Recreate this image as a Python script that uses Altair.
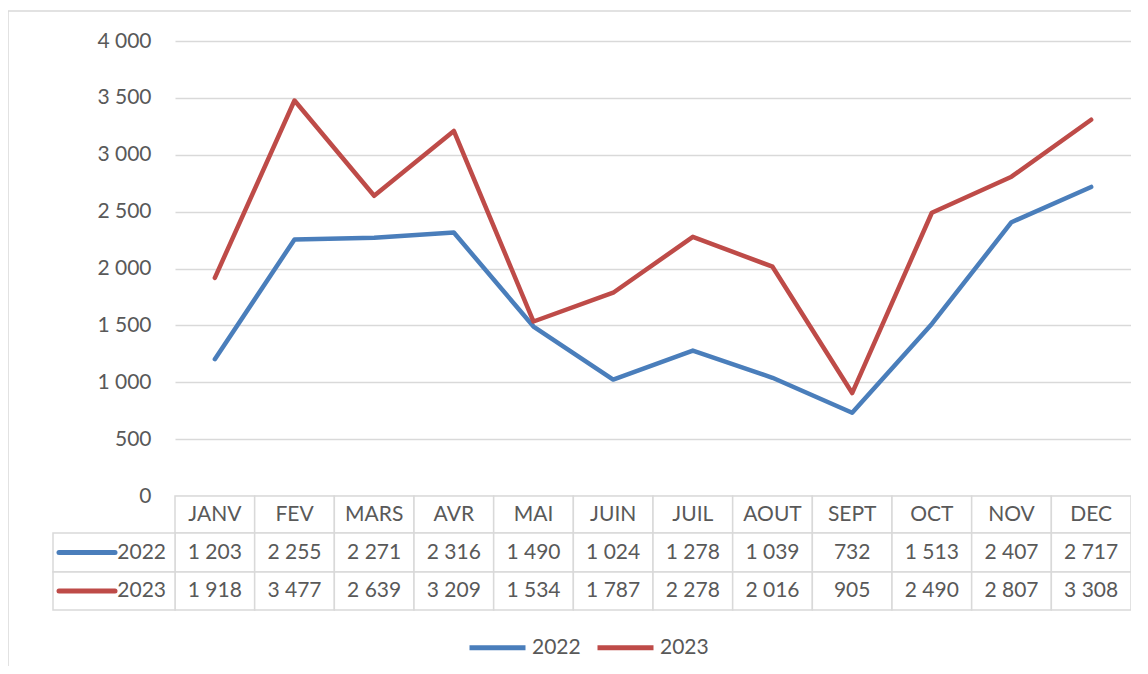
import altair as alt
import pandas as pd

months = ["JANV", "FEV", "MARS", "AVR", "MAI", "JUIN", "JUIL", "AOUT", "SEPT", "OCT", "NOV", "DEC"]
years = ["2022", "2023"]
v2022 = [1203, 2255, 2271, 2316, 1490, 1024, 1278, 1039, 732, 1513, 2407, 2717]
v2023 = [1918, 3477, 2639, 3209, 1534, 1787, 2278, 2016, 905, 2490, 2807, 3308]
y_ticks = [0, 500, 1000, 1500, 2000, 2500, 3000, 3500, 4000]
colors = ["#4a7ebb", "#be4b48"]


def fmt(v):
    return f"{v:,}".replace(",", " ")


rows = []
for yr, vals in zip(years, [v2022, v2023]):
    for m, v in zip(months, vals):
        rows.append({"month": m, "year": yr, "value": v, "label": fmt(v)})
df = pd.DataFrame(rows)
mdf = pd.DataFrame({"month": months})

W, H = 956, 455
FONT = "Lato"
FS = 21
GRAY = "#595959"
GRID = "#d9d9d9"

xscale = alt.Scale(type="band", domain=months, paddingInner=0, paddingOuter=0)
yscale = alt.Scale(domain=[0, 4000], nice=False)

border = alt.Chart(pd.DataFrame({"a": [0]})).mark_rect(
    fill="white", fillOpacity=0, stroke=GRID, strokeWidth=1.5
).encode(x=alt.value(-167), y=alt.value(-30), x2=alt.value(1300), y2=alt.value(900))

lines = alt.Chart(df).mark_line(strokeWidth=4.5, strokeCap="round", strokeJoin="round").encode(
    x=alt.X("month:N", scale=xscale, bandPosition=0.5, axis=None),
    y=alt.Y(
        "value:Q",
        scale=yscale,
        axis=alt.Axis(
            values=y_ticks,
            title=None,
            domain=False,
            ticks=False,
            labelPadding=24,
            labelFont=FONT,
            labelFontSize=FS,
            labelColor=GRAY,
            gridColor=GRID,
            gridWidth=1.3,
            labelExpr="replace(format(datum.value, ','), ',', ' ')",
        ),
    ),
    color=alt.Color(
        "year:N",
        scale=alt.Scale(domain=years, range=colors),
        legend=alt.Legend(
            title=None,
            orient="none",
            legendX=292,
            legendY=576,
            direction="horizontal",
            symbolType="stroke",
            symbolSize=3136,
            symbolStrokeWidth=5,
            labelFont=FONT,
            labelFontSize=FS,
            labelColor=GRAY,
            columnPadding=6,
            labelOffset=4,
            padding=0,
        ),
    ),
)

header_cells = alt.Chart(mdf).mark_rect(fill="white", stroke=GRID, strokeWidth=1.5).encode(
    x=alt.X("month:N", scale=xscale, axis=None), y=alt.value(455), y2=alt.value(492)
)
header_text = alt.Chart(mdf).mark_text(font=FONT, fontSize=FS, color=GRAY, baseline="middle").encode(
    x=alt.X("month:N", scale=xscale, bandPosition=0.5, axis=None), y=alt.value(473.5), text="month:N"
)

layers = [border, header_cells, header_text]
row_pos = [(492, 531), (531, 569)]
for i, yr in enumerate(years):
    y0, y1 = row_pos[i]
    mid = (y0 + y1) / 2
    sub = df[df["year"] == yr]
    layers.append(
        alt.Chart(sub).mark_rect(fill="white", stroke=GRID, strokeWidth=1.5).encode(
            x=alt.X("month:N", scale=xscale, axis=None), y=alt.value(y0), y2=alt.value(y1)
        )
    )
    layers.append(
        alt.Chart(sub).mark_text(font=FONT, fontSize=FS, color=GRAY, baseline="middle").encode(
            x=alt.X("month:N", scale=xscale, bandPosition=0.5, axis=None), y=alt.value(mid), text="label:N"
        )
    )
    ydf = pd.DataFrame({"year": [yr]})
    layers.append(
        alt.Chart(ydf).mark_rect(fill="white", stroke=GRID, strokeWidth=1.5).encode(
            x=alt.value(-122), x2=alt.value(0), y=alt.value(y0), y2=alt.value(y1)
        )
    )
    layers.append(
        alt.Chart(ydf).mark_rule(color=colors[i], strokeWidth=5, strokeCap="round").encode(
            x=alt.value(-116), x2=alt.value(-60), y=alt.value(mid)
        )
    )
    layers.append(
        alt.Chart(ydf).mark_text(font=FONT, fontSize=FS, color=GRAY, baseline="middle", align="right").encode(
            x=alt.value(-9), y=alt.value(mid), text="year:N"
        )
    )

layers.append(lines)

chart = (
    alt.layer(*layers)
    .properties(
        width=W,
        height=H,
        autosize=alt.AutoSizeParams(type="none"),
        padding={"left": 167, "top": 33, "right": 0, "bottom": 170},
    )
    .configure_view(strokeWidth=0)
)

chart.save("out.html", embed_options={"renderer": "svg", "actions": False})
